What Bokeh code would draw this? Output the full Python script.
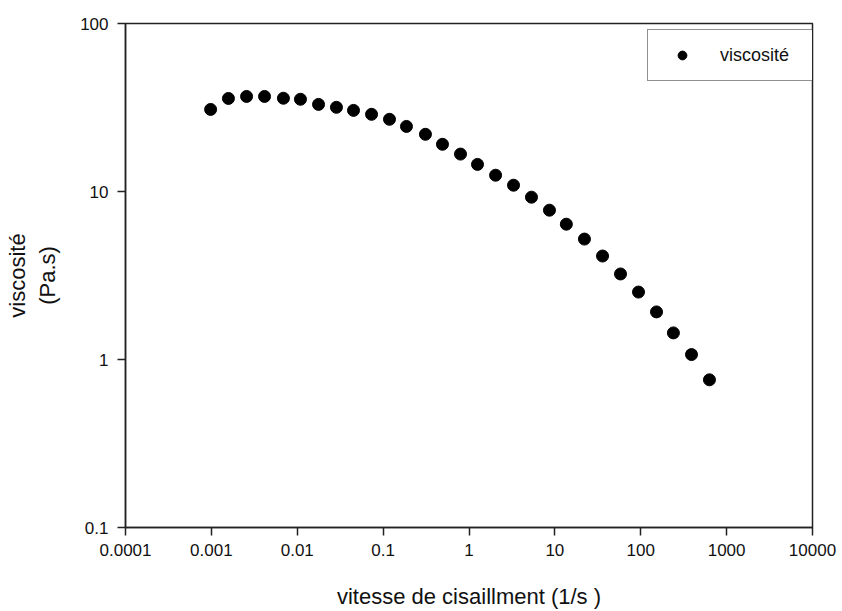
from bokeh.plotting import figure
from bokeh.models import Range1d, FixedTicker, ColumnDataSource, Legend, LegendItem
from bokeh.embed import file_html
from bokeh.resources import INLINE

# data
shear_rate = [0.00098, 0.00158, 0.00257, 0.00416, 0.0069, 0.0109, 0.0177, 0.0286, 0.0452,
              0.0733, 0.1186, 0.187, 0.311, 0.491, 0.796, 1.256, 2.04, 3.30, 5.34, 8.65,
              13.6, 22.1, 35.9, 58.1, 94.2, 152.6, 240, 390, 631]
viscosity = [30.8, 35.8, 36.8, 36.8, 35.9, 35.4, 33.0, 31.7, 30.4,
             28.8, 26.9, 24.4, 21.9, 19.1, 16.7, 14.5, 12.5, 10.9, 9.25, 7.74,
             6.39, 5.21, 4.13, 3.23, 2.52, 1.92, 1.44, 1.07, 0.757]
x_ticks = [0.0001, 0.001, 0.01, 0.1, 1, 10, 100, 1000, 10000]
x_tick_labels = ["0.0001", "0.001", "0.01", "0.1", "1", "10", "100", "1000", "10000"]
y_ticks = [0.1, 1, 10, 100]
y_tick_labels = ["0.1", "1", "10", "100"]

FONT = "Liberation Sans"
AX = "#222222"

p = figure(width=842, height=611, x_axis_type="log", y_axis_type="log",
           x_range=Range1d(1e-4, 1e4), y_range=Range1d(0.1, 100),
           output_backend="svg", toolbar_location=None,
           min_border_left=125, min_border_right=30, min_border_top=23, min_border_bottom=84)
p.grid.visible = False
p.background_fill_color = "white"
p.border_fill_color = "white"
p.outline_line_color = AX
p.outline_line_width = 1.5

src = ColumnDataSource(dict(x=shear_rate, y=viscosity))
r = p.scatter("x", "y", source=src, size=12, marker="circle",
              fill_color="black", line_color="black")

for ax, ticks, labels in ((p.xaxis[0], x_ticks, x_tick_labels), (p.yaxis[0], y_ticks, y_tick_labels)):
    ax.ticker = FixedTicker(ticks=ticks, minor_ticks=[])
    ax.major_label_overrides = {t: l for t, l in zip(ticks, labels)}
    ax.axis_line_color = AX
    ax.axis_line_width = 1.5
    ax.major_tick_line_color = AX
    ax.major_tick_line_width = 1.5
    ax.major_tick_out = 8
    ax.major_tick_in = 0
    ax.minor_tick_line_color = None
    ax.major_label_text_font = FONT
    ax.major_label_text_font_size = "17px"
    ax.major_label_text_color = "#111111"
    ax.axis_label_text_font = FONT
    ax.axis_label_text_font_style = "normal"
    ax.axis_label_text_font_size = "22px"
    ax.axis_label_text_color = "#111111"

p.xaxis.axis_label = "vitesse de cisaillment (1/s )"
p.xaxis.major_label_standoff = 8
p.xaxis.axis_label_standoff = 25
p.yaxis.axis_label = "viscosité\n(Pa.s)"
p.yaxis.major_label_standoff = 9
p.yaxis.axis_label_standoff = 17

legend = Legend(items=[LegendItem(label="viscosité", renderers=[r])],
                location=(522, 446), padding=14, glyph_width=40, glyph_height=22,
                label_standoff=18, label_width=81, label_height=22,
                label_text_font=FONT, label_text_font_size="18px", label_text_color="#111111",
                border_line_color=AX, border_line_width=1.5,
                background_fill_color="white", background_fill_alpha=1.0,
                margin=0, spacing=0)
p.add_layout(legend, "center")

open("out.html", "w").write(file_html(p, INLINE))
